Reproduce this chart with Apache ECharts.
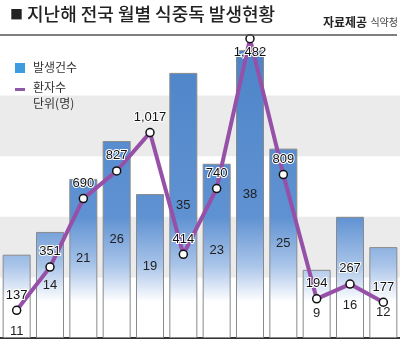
<!DOCTYPE html>
<html><head><meta charset="utf-8">
<script src="https://cdn.jsdelivr.net/npm/echarts@6/dist/echarts.min.js"></script>
<style>html,body{margin:0;padding:0;background:#fff}#c{width:400px;height:339px}</style>
</head><body><div id="c"></div>
<script>
const months = ['1월','2월','3월','4월','5월','6월','7월','8월','9월','10월','11월','12월'];
const outbreaks = [11, 14, 21, 26, 19, 35, 23, 38, 25, 9, 16, 12];
const patients = [137, 351, 690, 827, 1017, 414, 740, 1482, 809, 194, 267, 177];
const legendNames = ['발생건수', '환자수'];
const unitText = '단위(명)';
const titleText = '지난해 전국 월별 식중독 발생현황';
const sourceBold = '자료제공';
const sourceName = '식약청';

const FONT = '"Noto Sans CJK KR", "Noto Sans", sans-serif';
const NUMFONT = '"Liberation Sans", Arial, sans-serif';
const barLabelOffsets = {0: 35, 9: 10, 10: 28, 11: 20};
const lineLabelBelow = {7: true};

const chart = echarts.init(document.getElementById('c'));
const barGrad = {type:'linear', x:0, y:35, x2:0, y2:338, global:true, colorStops:[
  {offset:0, color:'#4c84c8'}, {offset:0.6, color:'#5f92d2'}, {offset:0.76, color:'#a9c4e9'},
  {offset:0.88, color:'#ffffff'}, {offset:1, color:'#ffffff'}]};

chart.setOption({
  animation:false,
  title:{text:'{s|■} ' + titleText, left:5, top:0, textStyle:{fontFamily:FONT, fontSize:18, fontWeight:500, color:'#222',
    rich:{s:{fontFamily:FONT, fontSize:13, color:'#222'}}}},
  grid:{left:-3, right:-4, top:35, bottom:1, containLabel:false},
  xAxis:{type:'category', data:months, axisLabel:{show:false}, axisTick:{show:false},
    axisLine:{show:true, lineStyle:{color:'#333', width:2}}},
  yAxis:[
    {type:'value', min:0, max:40, interval:8, axisLabel:{show:false}, axisLine:{show:false}, axisTick:{show:false},
     splitLine:{show:false}, splitArea:{show:true, areaStyle:{color:['rgba(255,255,255,0)','#ebebeb']}}},
    {type:'value', min:0, max:1500, show:false, splitLine:{show:false}}
  ],
  series:[
    {name:legendNames[0], type:'bar', barWidth:28, yAxisIndex:0,
     data: outbreaks.map((v,i)=>({value:v, label: barLabelOffsets[i] ? {offset:[0, barLabelOffsets[i]]} : undefined})),
     itemStyle:{color:barGrad, borderColor:'#8a8a8a', borderWidth:1},
     label:{show:true, position:'inside', color:'#222', fontFamily:NUMFONT, fontSize:13}},
    {name:legendNames[1], type:'line', yAxisIndex:1, z:5,
     data: patients.map((v,i)=>({value:v, label: lineLabelBelow[i] ? {position:'bottom', distance:3} : undefined})),
     lineStyle:{color:'#9650a8', width:4}, symbol:'circle', symbolSize:8,
     itemStyle:{color:'#fff', borderColor:'#111', borderWidth:1.5},
     label:{show:true, position:'top', distance:4, color:'#111', fontFamily:NUMFONT, fontSize:13,
       textBorderColor:'#fff', textBorderWidth:2, formatter:p=>p.value.toLocaleString('en-US')}}
  ],
  graphic:[
    {type:'text', right:2, top:16, style:{text:'{a|'+sourceBold+'} {b|'+sourceName+'}', rich:{
      a:{fontFamily:FONT, fontSize:12, fontWeight:'bold', fill:'#222'},
      b:{fontFamily:FONT, fontSize:10, fill:'#444'}}}},
    {type:'line', shape:{x1:0, y1:35, x2:397, y2:35}, style:{stroke:'#555', lineWidth:1.5}, z:10},
    {type:'rect', shape:{x:15, y:63, width:10, height:10}, style:{fill:'#3d9be0'}, z:10},
    {type:'text', left:33, top:61, style:{text:legendNames[0], fontFamily:FONT, fontSize:12, fill:'#333'}, z:10},
    {type:'rect', shape:{x:15, y:88, width:10, height:3}, style:{fill:'#8e5aa8'}, z:10},
    {type:'text', left:33, top:81, style:{text:legendNames[1], fontFamily:FONT, fontSize:12, fill:'#333'}, z:10},
    {type:'text', left:33, top:97, style:{text:unitText, fontFamily:FONT, fontSize:12, fill:'#333'}, z:10}
  ]
});
</script></body></html>
